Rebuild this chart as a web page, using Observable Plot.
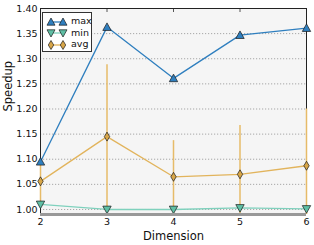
<!DOCTYPE html>
<html><head><meta charset="utf-8">
<script src="https://cdn.jsdelivr.net/npm/d3@7"></script>
<script src="https://cdn.jsdelivr.net/npm/@observablehq/plot@0.6"></script>
<style>
body{margin:0;background:#fff;font-family:"DejaVu Sans",sans-serif;}
#wrap{position:relative;width:314px;height:245px;}
#legend{position:absolute;left:42px;top:12px;width:50px;height:40px;background:#fff;border:1px solid #333;box-sizing:border-box;font-size:9.5px;}
#legend .row{position:absolute;left:0;height:12px;width:48px;}
#legend svg{position:absolute;left:0;top:0;}
#legend span{position:absolute;left:28px;top:-0.5px;color:#111;line-height:12px;}
</style>
</head><body><div id="wrap"><div id="chart"></div><div id="legend"></div></div>
<script>
const dims = [2, 3, 4, 5, 6];
const maxVals = [1.095, 1.363, 1.261, 1.347, 1.361];
const minVals = [1.010, 1.000, 1.000, 1.003, 1.001];
const avgVals = [1.056, 1.145, 1.065, 1.070, 1.087];
const avgErr  = [0.040, 0.143, 0.072, 0.097, 0.113];
const yTicks = [1.00, 1.05, 1.10, 1.15, 1.20, 1.25, 1.30, 1.35, 1.40];
const xTicks = [2, 3, 4, 5, 6];
const seriesNames = ["max", "min", "avg"];
const yDomain = [0.99, 1.40];

const colors = {
  max: {line: "#2f7fbf", fill: "#2f7fbf"},
  min: {line: "#7fd1bd", fill: "#5fbfa5"},
  avg: {line: "#e2b45c", fill: "#d8a648", err: "#e6bb68"}
};

function rOf(size){ return Math.sqrt(size / Math.PI); }
const triUp = {draw(ctx, size){ const r = rOf(size); ctx.moveTo(0, -r); ctx.lineTo(r, r*0.8); ctx.lineTo(-r, r*0.8); ctx.closePath(); }};
const triDown = {draw(ctx, size){ const r = rOf(size); ctx.moveTo(0, r); ctx.lineTo(r, -r*0.8); ctx.lineTo(-r, -r*0.8); ctx.closePath(); }};
const thinDiamond = {draw(ctx, size){ const r = rOf(size); ctx.moveTo(0, -r); ctx.lineTo(r*0.6, 0); ctx.lineTo(0, r); ctx.lineTo(-r*0.6, 0); ctx.closePath(); }};

const rows = dims.map((d, i) => ({
  dim: d, max: maxVals[i], min: minVals[i], avg: avgVals[i],
  lo: Math.max(avgVals[i] - avgErr[i], yDomain[0]), hi: Math.min(avgVals[i] + avgErr[i], yDomain[1])
}));

const chart = Plot.plot({
  width: 314,
  height: 245,
  marginLeft: 40,
  marginRight: 8,
  marginTop: 8,
  marginBottom: 31,
  style: {fontFamily: "DejaVu Sans", fontSize: "9px", background: "#fff", color: "#111"},
  x: {domain: [2, 6], ticks: xTicks, tickFormat: d3.format("d"), label: null},
  y: {domain: yDomain, ticks: yTicks, tickFormat: d3.format(".2f"), label: null},
  marks: [
    Plot.frame({fill: "#f5f5f5", stroke: null}),
    Plot.gridY(yTicks, {stroke: "#888", strokeOpacity: 0.9, strokeDasharray: "1.2,1.8", strokeWidth: 0.8}),
    Plot.axisY(yTicks, {tickSize: 0, tickPadding: 3, fontSize: 9.5, label: null}),
    Plot.axisX(xTicks, {tickSize: 0, tickPadding: 4, fontSize: 9.5, label: null}),
    Plot.axisX(xTicks, {anchor: "top", tickSize: -3, stroke: "#555", tickFormat: () => "", label: null}),
    Plot.ruleX([2], {stroke: "#222", strokeWidth: 1}),
    Plot.ruleX([6], {stroke: "#222", strokeWidth: 1}),
    Plot.ruleY([1.40], {stroke: "#222", strokeWidth: 1}),
    Plot.ruleX(rows, {x: "dim", y1: "lo", y2: "hi", stroke: colors.avg.err, strokeWidth: 1.5}),
    Plot.line(rows, {x: "dim", y: "min", stroke: colors.min.line, strokeWidth: 1.3}),
    Plot.line(rows, {x: "dim", y: "avg", stroke: colors.avg.line, strokeWidth: 1.3}),
    Plot.line(rows, {x: "dim", y: "max", stroke: colors.max.line, strokeWidth: 1.3}),
    Plot.dot(rows, {x: "dim", y: "min", symbol: triDown, r: 4.2, fill: colors.min.fill, stroke: "#1a1a1a", strokeWidth: 0.7}),
    Plot.dot(rows, {x: "dim", y: "avg", symbol: thinDiamond, r: 4.5, fill: colors.avg.fill, stroke: "#1a1a1a", strokeWidth: 0.7}),
    Plot.dot(rows, {x: "dim", y: "max", symbol: triUp, r: 4.2, fill: colors.max.fill, stroke: "#1a1a1a", strokeWidth: 0.7}),
    Plot.ruleY([yDomain[0]], {stroke: "#999", strokeWidth: 3}),
    Plot.text(["Dimension"], {frameAnchor: "bottom", dy: 25, fontSize: 11.5, fill: "#111"}),
    Plot.text(["Speedup"], {frameAnchor: "left", dx: -32, rotate: -90, fontSize: 11.5, fill: "#111"})
  ]
});
document.getElementById("chart").appendChild(chart);

// Legend
const legend = document.getElementById("legend");
const markerPaths = {
  max: "M0,-4L4,3.2L-4,3.2Z",
  min: "M0,4L4,-3.2L-4,-3.2Z",
  avg: "M0,-4.5L2.7,0L0,4.5L-2.7,0Z"
};
seriesNames.forEach((name, i) => {
  const row = document.createElement("div");
  row.className = "row";
  row.style.top = (2.5 + i * 11.5) + "px";
  const c = colors[name];
  row.innerHTML = `<svg width="28" height="12" viewBox="0 0 28 12">
    <line x1="8" y1="6" x2="20" y2="6" stroke="${c.line}" stroke-width="1.3"/>
    <path transform="translate(8,6)" d="${markerPaths[name]}" fill="${c.fill}" stroke="#1a1a1a" stroke-width="0.7"/>
    <path transform="translate(20,6)" d="${markerPaths[name]}" fill="${c.fill}" stroke="#1a1a1a" stroke-width="0.7"/>
  </svg><span>${name}</span>`;
  legend.appendChild(row);
});
</script>
</body></html>
